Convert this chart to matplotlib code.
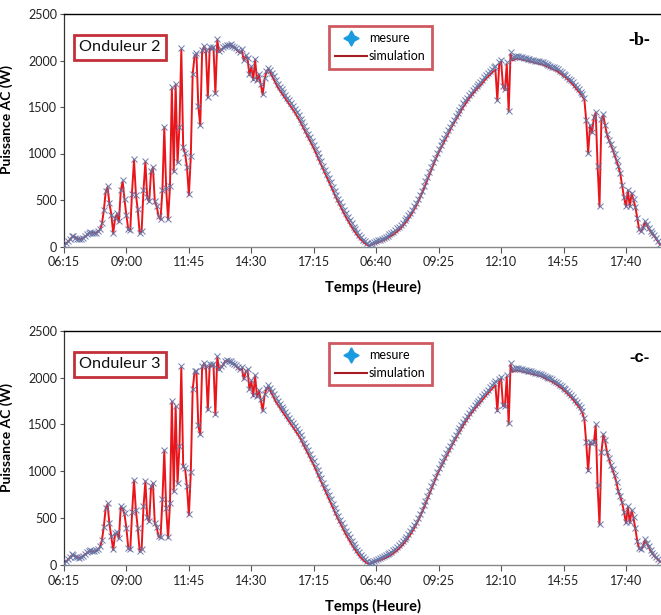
import matplotlib
matplotlib.use("Agg")
import matplotlib.pyplot as plt
import numpy as np
from matplotlib.lines import Line2D

plt.rcParams['font.family'] = ['Lato', 'DejaVu Sans']

tick_pos = [0, 33, 66, 99, 132, 165, 198, 231, 264, 297]
tick_labels = ['06:15', '09:00', '11:45', '14:30', '17:15', '06:40', '09:25', '12:10', '14:55', '17:40']
y_ticks = [0, 500, 1000, 1500, 2000, 2500]

simulation_b = [
    15, 30, 50, 70, 95, 110, 100, 85, 80, 75,
    90, 105, 120, 140, 150, 155, 145, 140, 160, 180,
    240, 380, 580, 640, 460, 350, 140, 300, 350, 260,
    600, 700, 500, 330, 180, 170, 600, 930, 560, 390,
    140, 160, 600, 910, 520, 480, 800, 850, 480, 430,
    320, 290, 600, 1280, 620, 290, 640, 1700, 800, 1740,
    900, 1280, 2120, 1060, 1000, 850, 550, 960, 1850, 2050,
    2070, 1500, 1300, 2100, 2150, 2100, 1600, 2130, 2120, 2140,
    1640, 2220, 2090, 2110, 2130, 2150, 2160, 2160, 2170, 2150,
    2140, 2120, 2100, 2080, 2110, 2000, 2050, 2020, 1840, 1930,
    1790, 2010, 1780, 1850, 1740, 1630, 1800, 1880, 1910, 1870,
    1830, 1790, 1750, 1710, 1680, 1650, 1620, 1590, 1560, 1530,
    1500, 1470, 1440, 1405, 1370, 1335, 1295, 1255, 1215, 1175,
    1135, 1095, 1055, 1010, 965, 920, 875, 830, 785, 740,
    695, 650, 605, 560, 515, 475, 435, 395, 355, 315,
    280, 245, 210, 180, 150, 120, 95, 72, 52, 35,
    20, 10, 15, 22, 30, 38, 45, 52, 60, 68,
    78, 90, 102, 115, 128, 145, 160, 178, 198, 220,
    244, 270, 298, 328, 360, 395, 432, 472, 515, 562,
    612, 662, 712, 762, 815, 868, 918, 965, 1010, 1050,
    1090, 1130, 1170, 1210, 1250, 1290, 1325, 1360, 1395, 1430,
    1465, 1500, 1530, 1560, 1590, 1615, 1640, 1665, 1690, 1710,
    1730, 1755, 1780, 1805, 1825, 1845, 1865, 1885, 1900, 1570,
    1960, 1990, 1720, 1680, 1960, 1450, 2070, 2000, 2010, 2020,
    2020, 2015, 2010, 2005, 2000, 1995, 1990, 1985, 1980, 1975,
    1970, 1965, 1960, 1955, 1945, 1940, 1930, 1920, 1910, 1900,
    1890, 1880, 1865, 1850, 1835, 1820, 1800, 1780, 1760, 1740,
    1715, 1690, 1665, 1640, 1610, 1580, 1350, 1000, 1300, 1220,
    1380, 1440, 860, 430, 1360, 1410, 1300, 1200, 1140, 1090,
    1040, 980, 920, 860, 780, 650, 520, 430, 600, 430,
    570, 500, 420, 300, 180, 160, 200, 265, 230, 190,
    160, 130, 110, 80, 50, 20]

mesure_b = [
    20, 40, 55, 80, 110, 115, 95, 80, 85, 80,
    95, 110, 130, 145, 160, 150, 150, 145, 170, 190,
    250, 390, 600, 650, 470, 340, 150, 310, 360, 270,
    610, 710, 510, 340, 190, 180, 560, 940, 550, 400,
    150, 170, 610, 920, 530, 490, 810, 860, 490, 440,
    330, 300, 610, 1290, 630, 300, 650, 1710, 810, 1750,
    910, 1290, 2130, 1070, 1010, 860, 560, 970, 1860, 2060,
    2080, 1510, 1310, 2110, 2160, 2110, 1610, 2140, 2130, 2150,
    1650, 2230, 2100, 2120, 2140, 2160, 2170, 2170, 2180, 2160,
    2150, 2130, 2110, 2090, 2120, 2010, 2060, 2030, 1850, 1940,
    1800, 2020, 1790, 1860, 1750, 1640, 1810, 1890, 1920, 1900,
    1870, 1830, 1790, 1750, 1720, 1690, 1660, 1630, 1600, 1570,
    1540, 1510, 1480, 1445, 1410, 1375, 1335, 1295, 1255, 1215,
    1175, 1135, 1095, 1050, 1005, 960, 915, 870, 825, 780,
    735, 690, 645, 600, 555, 515, 475, 435, 395, 355,
    320, 285, 250, 215, 185, 155, 125, 100, 75, 55,
    35, 20, 25, 35, 45, 55, 65, 75, 85, 95,
    105, 118, 130, 145, 160, 178, 194, 212, 234, 256,
    280, 306, 334, 364, 397, 432, 470, 510, 553, 600,
    650, 700, 750, 800, 853, 905, 955, 1002, 1047, 1090,
    1130, 1170, 1210, 1250, 1290, 1330, 1365, 1400, 1435, 1470,
    1505, 1540, 1570, 1600, 1630, 1655, 1680, 1705, 1730, 1750,
    1770, 1795, 1820, 1845, 1865, 1885, 1905, 1925, 1940, 1580,
    1980, 2010, 1730, 1690, 1980, 1460, 2090, 2030, 2040, 2045,
    2045, 2040, 2035, 2030, 2025, 2020, 2015, 2010, 2005, 2000,
    1995, 1990, 1985, 1980, 1972, 1965, 1955, 1945, 1935, 1925,
    1915, 1905, 1890, 1875, 1860, 1845, 1825, 1805, 1785, 1765,
    1740, 1715, 1690, 1665, 1635, 1600, 1360, 1010, 1310, 1230,
    1390, 1450, 870, 440, 1370, 1420, 1310, 1210, 1150, 1100,
    1050, 990, 930, 870, 790, 660, 530, 440, 610, 440,
    580, 510, 430, 310, 190, 170, 210, 275, 240, 200,
    170, 140, 120, 90, 60, 30]

simulation_c = [
    20, 35, 55, 75, 100, 105, 95, 80, 75, 80,
    95, 110, 125, 140, 150, 145, 140, 150, 165, 190,
    260, 400, 600, 650, 440, 300, 160, 330, 340, 280,
    620, 600, 540, 390, 175, 160, 560, 900, 580, 390,
    140, 160, 620, 890, 500, 460, 830, 870, 440, 400,
    300, 290, 690, 1220, 600, 285, 650, 1740, 780, 1690,
    870, 1260, 2110, 1050, 1030, 830, 530, 980, 1870, 2060,
    2060, 1480, 1390, 2110, 2150, 2110, 1650, 2130, 2120, 2140,
    1600, 2220, 2080, 2110, 2130, 2170, 2180, 2170, 2170, 2150,
    2140, 2120, 2100, 2080, 2100, 1980, 2060, 2080, 1870, 1960,
    1800, 2020, 1790, 1860, 1760, 1640, 1810, 1880, 1900, 1860,
    1820, 1780, 1740, 1710, 1680, 1650, 1620, 1590, 1560, 1530,
    1500, 1470, 1440, 1410, 1380, 1345, 1305, 1265, 1225, 1185,
    1145, 1105, 1065, 1020, 975, 930, 885, 840, 795, 750,
    705, 660, 615, 570, 525, 485, 445, 405, 365, 325,
    290, 255, 220, 188, 158, 128, 100, 76, 55, 38,
    22, 12, 15, 22, 30, 38, 45, 52, 60, 68,
    76, 86, 98, 110, 124, 140, 156, 174, 194, 216,
    240, 266, 294, 324, 356, 390, 426, 465, 507, 552,
    600, 650, 700, 750, 800, 850, 900, 950, 995, 1035,
    1075, 1115, 1155, 1195, 1235, 1275, 1312, 1350, 1385, 1420,
    1455, 1490, 1522, 1554, 1585, 1612, 1638, 1664, 1690, 1712,
    1735, 1760, 1785, 1810, 1832, 1854, 1876, 1898, 1918, 1640,
    1960, 1990, 1700, 1690, 2010, 1500, 2140, 2060, 2070, 2075,
    2075, 2070, 2065, 2060, 2055, 2050, 2045, 2040, 2035, 2030,
    2025, 2020, 2015, 2005, 1995, 1985, 1975, 1965, 1955, 1945,
    1930, 1915, 1900, 1885, 1870, 1850, 1830, 1810, 1790, 1765,
    1740, 1715, 1690, 1660, 1620, 1550, 1300, 1000, 1300, 1290,
    1300, 1490, 840, 430, 1200, 1390, 1320, 1200, 1130, 1060,
    1010, 950, 880, 780, 730, 660, 560, 445, 620, 450,
    580, 500, 380, 250, 175, 160, 200, 265, 230, 190,
    150, 120, 95, 75, 55, 35]

mesure_c = [
    25, 40, 60, 85, 115, 110, 90, 85, 80, 90,
    100, 120, 135, 150, 155, 150, 145, 160, 175, 200,
    270, 410, 610, 660, 450, 310, 170, 340, 350, 290,
    630, 610, 550, 400, 185, 170, 570, 910, 590, 400,
    150, 170, 630, 900, 510, 470, 840, 880, 450, 410,
    310, 300, 700, 1230, 610, 295, 660, 1750, 790, 1700,
    880, 1270, 2120, 1060, 1040, 840, 540, 990, 1880, 2070,
    2070, 1490, 1400, 2120, 2160, 2120, 1660, 2140, 2130, 2150,
    1610, 2230, 2090, 2120, 2140, 2180, 2190, 2180, 2180, 2160,
    2150, 2130, 2110, 2090, 2110, 1990, 2070, 2090, 1880, 1970,
    1810, 2030, 1800, 1870, 1770, 1650, 1820, 1890, 1920, 1890,
    1860, 1820, 1780, 1750, 1720, 1690, 1660, 1630, 1600, 1570,
    1540, 1510, 1480, 1450, 1420, 1385, 1345, 1305, 1265, 1225,
    1185, 1145, 1105, 1060, 1015, 970, 925, 880, 835, 790,
    745, 700, 655, 610, 565, 525, 485, 445, 405, 365,
    330, 295, 260, 225, 195, 165, 135, 108, 82, 60,
    40, 25, 28, 36, 45, 55, 65, 75, 85, 95,
    105, 116, 128, 142, 156, 174, 192, 210, 230, 252,
    276, 302, 330, 360, 392, 426, 462, 502, 544, 590,
    638, 688, 738, 788, 838, 888, 938, 988, 1034, 1075,
    1115, 1155, 1195, 1235, 1275, 1314, 1352, 1390, 1425, 1460,
    1495, 1530, 1562, 1594, 1625, 1652, 1678, 1704, 1730, 1752,
    1775, 1800, 1825, 1850, 1872, 1894, 1916, 1938, 1958, 1650,
    1985, 2010, 1710, 1700, 2030, 1510, 2160, 2090, 2095, 2100,
    2100, 2095, 2090, 2085, 2080, 2075, 2070, 2065, 2058, 2052,
    2046, 2040, 2034, 2026, 2018, 2010, 2000, 1990, 1980, 1968,
    1955, 1940, 1925, 1910, 1893, 1875, 1855, 1835, 1813, 1790,
    1765, 1738, 1712, 1682, 1640, 1565, 1310, 1010, 1310, 1300,
    1310, 1500, 850, 440, 1210, 1400, 1330, 1210, 1140, 1070,
    1020, 960, 890, 790, 740, 670, 570, 455, 630, 460,
    590, 510, 390, 260, 185, 170, 210, 275, 240, 200,
    160, 130, 105, 85, 65, 45]

W, H = 661, 615
fig = plt.figure(figsize=(W / 100, H / 100), dpi=100)
fig.patch.set_facecolor('white')

BOX_RED = '#c3303a'


def panel(rect, sim, mes, name, tag, tagfont, tagsize, xlim_right=315.5):
    l, t, r, b = rect
    ax = fig.add_axes([l / W, 1 - b / H, (r - l) / W, (b - t) / H])
    ax.plot(np.arange(len(sim)), sim, color='#e8151b', lw=1.4, zorder=2)
    ax.plot(np.arange(len(mes)), mes, ls='none', marker='x', ms=4, mew=0.75,
            color='#6474a6', alpha=0.9, zorder=3)
    ax.set_xlim(0, xlim_right)
    ax.set_ylim(0, 2500)
    ax.set_xticks(tick_pos)
    ax.set_xticklabels(tick_labels)
    ax.set_yticks(y_ticks)
    ax.tick_params(axis='x', direction='out', length=4, width=0.8, color='#555555',
                   labelsize=9, pad=3, labelcolor='#222222')
    ax.tick_params(axis='y', direction='out', length=3, width=0.8, color='#555555',
                   labelsize=9, pad=2, labelcolor='#222222')
    ax.spines['right'].set_visible(False)
    ax.spines['top'].set_color('black')
    ax.spines['top'].set_linewidth(1.0)
    ax.spines['left'].set_color('#333333')
    ax.spines['left'].set_linewidth(0.9)
    ax.spines['bottom'].set_color('#888888')
    ax.spines['bottom'].set_linewidth(1.0)

    ax.text((79 - l) / (r - l), 0.856, name, transform=ax.transAxes, fontsize=11.7,
            ha='left', va='center', color='#111111',
            bbox=dict(boxstyle='square,pad=0.33', fc='white', ec=BOX_RED, lw=2))
    ax.text((639 - l) / (r - l), 0.885, tag, transform=ax.transAxes, fontsize=tagsize,
            fontweight='bold', family=tagfont, ha='center', va='center')

    handles = [Line2D([], [], ls='none', marker=(4, 1, 0), ms=11, color='#1a9be0'),
               Line2D([], [], color='#a81c22', lw=1.5)]
    leg = ax.legend(handles, ['mesure', 'simulation'], loc='upper left',
                    bbox_to_anchor=((329 - l) / (r - l), (b - (t + 12)) / (b - t)),
                    fontsize=9, frameon=True, fancybox=False, borderpad=0.5,
                    labelspacing=0.5, handlelength=2.5, handletextpad=0.2,
                    borderaxespad=0)
    leg.get_frame().set_edgecolor(BOX_RED)
    leg.get_frame().set_linewidth(2)
    leg.get_frame().set_facecolor('white')

    ax.text(0.518, -0.175, 'Temps (Heure)', transform=ax.transAxes, fontsize=10.5,
            fontweight='bold', ha='center', va='center')
    ax.set_ylabel('Puissance AC (W)', fontsize=10, fontweight='bold')
    ax.yaxis.set_label_coords((13 - l) / (r - l), 0.545)
    return ax


panel((64, 14, 661, 246.5), simulation_b, mesure_b, 'Onduleur 2', '-b-', 'Liberation Serif', 13)
panel((64, 330.7, 661, 565), simulation_c, mesure_c, 'Onduleur 3', '-c-', 'Liberation Sans', 12)

fig.savefig('out.png', dpi=100, facecolor='white')
